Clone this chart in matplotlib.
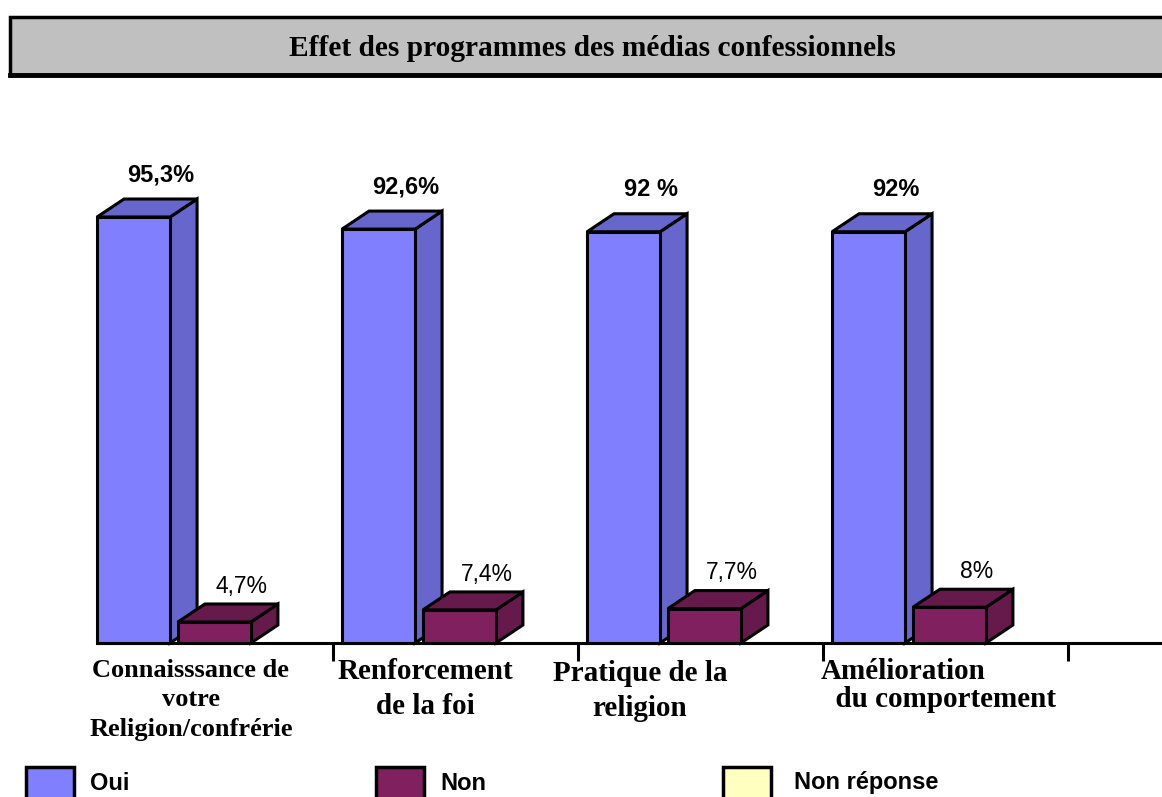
import matplotlib.pyplot as plt
from matplotlib.patches import Polygon, Rectangle

W, H = 1162, 797

title = "Effet des programmes des médias confessionnels"
categories = ["Connaisssance de\nvotre\nReligion/confrérie",
              "Renforcement\nde la foi",
              "Pratique de la\nreligion",
              "Amélioration\n  du comportement"]
oui = [95.3, 92.6, 92.0, 92.0]
non = [4.7, 7.4, 7.7, 8.0]
oui_labels = ["95,3%", "92,6%", "92 %", "92%"]
non_labels = ["4,7%", "7,4%", "7,7%", "8%"]
series = ["Oui", "Non", "Non réponse"]
colors = {"Oui": ("#8080ff", "#6666cc"),
          "Non": ("#80205f", "#661a4c"),
          "Non réponse": ("#ffffc0", "#ccccaa")}

SERIF = "Liberation Serif"
SANS = "Liberation Sans"

fig = plt.figure(figsize=(W / 100, H / 100), dpi=100)

# plot area: baseline at y=643 px, one category = 245 px starting at x=88
x0_px, base_px, top_px = 88, 643, 150
ax = fig.add_axes([x0_px / W, 1 - base_px / H, 1 - x0_px / W, (base_px - top_px) / H])
ppu_y = 4.47
ax.set_xlim(0, (W - x0_px) / 245)
ax.set_ylim(0, (base_px - top_px) / ppu_y)
ax.patch.set_visible(False)
for s in ["top", "right", "left"]:
    ax.spines[s].set_visible(False)
ax.spines["bottom"].set_linewidth(2.2)
ax.spines["bottom"].set_bounds(0.04, (W - x0_px) / 245)
ax.set_yticks([])
ax.set_xticks([1, 2, 3, 4])
ax.set_xticklabels([])
ax.tick_params(axis="x", length=13, width=2.2, direction="out")

dx, dy = 27 / 245, 18 / ppu_y
bw = 73 / 245
offsets = {"Oui": 0.037, "Non": 0.367}


def bar3d(x, v, front, dark):
    kw = dict(edgecolor="black", linewidth=2.2, joinstyle="miter", clip_on=False)
    ax.add_patch(Polygon([(x + bw, 0), (x + bw + dx, dy), (x + bw + dx, v + dy), (x + bw, v)],
                         facecolor=dark, **kw))
    ax.add_patch(Polygon([(x, v), (x + dx, v + dy), (x + bw + dx, v + dy), (x + bw, v)],
                         facecolor=dark, **kw))
    ax.add_patch(Rectangle((x, 0), bw, v, facecolor=front, **kw))


for i in range(len(categories)):
    xo = i + offsets["Oui"]
    bar3d(xo, oui[i], *colors["Oui"])
    ax.text(xo + bw / 2 + dx, oui[i] + dy + 2.8, oui_labels[i], ha="center", va="bottom",
            fontsize=17, fontweight="bold", family=SANS)
    xn = i + offsets["Non"]
    bar3d(xn, non[i], *colors["Non"])
    ax.text(xn + bw / 2 + dx, non[i] + dy + 1.4, non_labels[i], ha="center", va="bottom",
            fontsize=16.5, family=SANS)

# category labels (placed as in the original, not centered)
lab_x = [0.42, 1.376, 2.253, 2.99]
lab_ha = ["center", "center", "center", "left"]
lab_fs = [19, 21, 21, 21]
lab_ls = [1.35, 1.35, 1.4, 1.02]
lab_y = [-3.6, -3.4, -3.8, -3.4]
for i, c in enumerate(categories):
    ax.text(lab_x[i], lab_y[i], c, ha=lab_ha[i], va="top", multialignment=lab_ha[i],
            fontsize=lab_fs[i], fontweight="bold", family=SERIF, linespacing=lab_ls[i])

# title box
fig.patches.append(Rectangle((10 / W, 1 - 75 / H), (W + 20 - 10) / W, 58 / H,
                             transform=fig.transFigure, facecolor="#c0c0c0",
                             edgecolor="black", linewidth=2.5, clip_on=False))
fig.lines.append(plt.Line2D([10 / W, 1.02], [1 - 74.5 / H, 1 - 74.5 / H],
                            transform=fig.transFigure, color="black", linewidth=3.5))
fig.text(592 / W, 1 - 48 / H, title, ha="center", va="center", fontsize=21.2,
         fontweight="bold", family=SERIF)

# legend
leg_box_x = [26, 376, 723]
leg_txt_x = [90, 440, 794]
for s, bx, tx in zip(series, leg_box_x, leg_txt_x):
    fig.patches.append(Rectangle((bx / W, 1 - 805 / H), 48 / W, 38 / H,
                                 transform=fig.transFigure, facecolor=colors[s][0],
                                 edgecolor="black", linewidth=2.5, clip_on=False))
    fig.text(tx / W, 1 - 783 / H, s, ha="left", va="center", fontsize=17,
             fontweight="bold", family=SANS)

fig.savefig("out.png", dpi=100)
